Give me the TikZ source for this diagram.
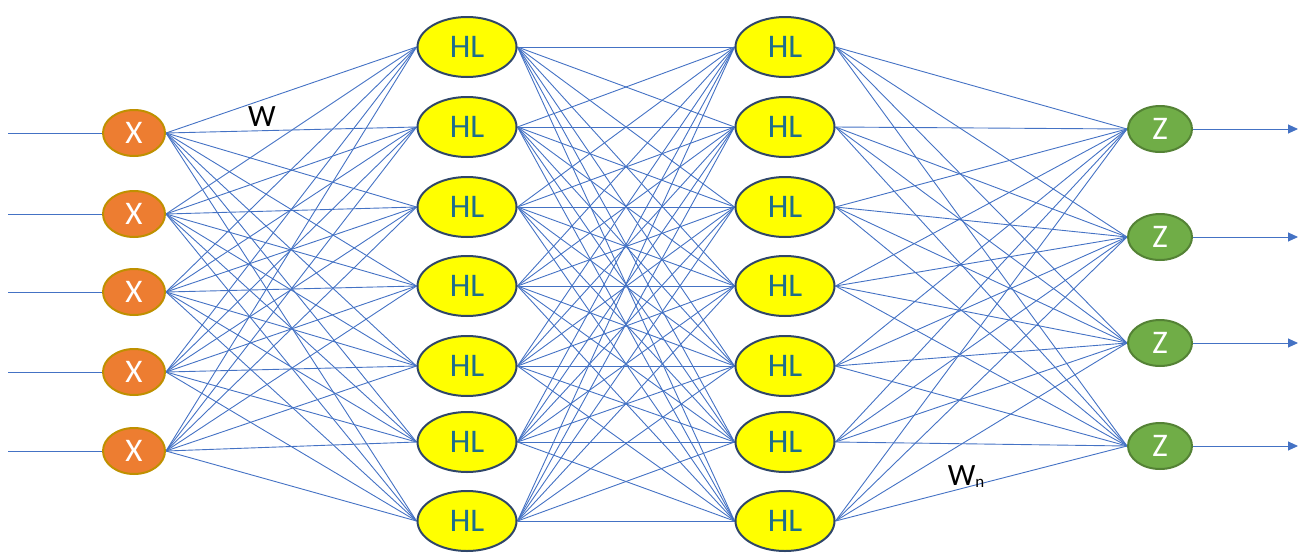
\documentclass[tikz,border=0pt]{standalone}
\usepackage{fontspec}
\setmainfont{Carlito}
\usetikzlibrary{shapes.geometric,arrows.meta,backgrounds}
\definecolor{lineblue}{RGB}{68,114,196}
\definecolor{xfill}{RGB}{237,125,49}
\definecolor{xborder}{RGB}{191,144,0}
\definecolor{zfill}{RGB}{112,173,71}
\definecolor{zborder}{RGB}{84,130,53}
\definecolor{hlfill}{RGB}{255,255,0}
\definecolor{hlborder}{RGB}{47,70,105}
\definecolor{hltext}{RGB}{30,110,140}
\tikzset{
  conn/.style={draw=lineblue, line width=0.9pt},
  xnode/.style={ellipse, draw=xborder, fill=xfill, line width=2pt, minimum width=62pt, minimum height=46pt, inner sep=0pt, text=white, font=\fontsize{33}{35}\selectfont},
  znode/.style={ellipse, draw=zborder, fill=zfill, line width=2pt, minimum width=64pt, minimum height=46pt, inner sep=0pt, text=white, font=\fontsize{33}{35}\selectfont},
  hlnode/.style={ellipse, draw=hlborder, fill=hlfill, line width=2pt, minimum width=99pt, minimum height=60pt, inner sep=0pt, text=hltext, font=\fontsize{33}{35}\selectfont},
  wlabel/.style={font=\fontsize{31}{33}\selectfont, text=black, inner sep=0pt}
}
\begin{document}
\begin{tikzpicture}[x=1pt,y=-1pt]
\useasboundingbox (0,0) rectangle (1303,557);
% input nodes
\foreach \i/\y in {1/133,2/214,3/292,4/372,5/451} {
  \node[xnode] (x\i) at (134,\y) {X};
  \coordinate (in\i) at (8,\y);
}
% hidden layers
\foreach \i/\y in {1/47,2/127,3/207,4/286,5/366,6/442,7/521} {
  \node[hlnode] (a\i) at (467,\y) {HL};
  \node[hlnode] (b\i) at (785,\y) {HL};
}
% outputs
\foreach \i/\y in {1/129,2/237,3/343,4/446} {
  \node[znode] (z\i) at (1160,\y) {Z};
  \coordinate (out\i) at (1298,\y);
}
\node[wlabel] (w) at (262,117) {W};
\node[wlabel] (wn) at (966,477) {W\raisebox{-2pt}{\fontsize{17}{19}\selectfont n}};
\begin{pgfonlayer}{background}
\foreach \i in {1,...,5} {
  \draw[conn] (in\i) -- (x\i.west);
  \foreach \j in {1,...,7} { \draw[conn] (x\i.east) -- (a\j.west); }
}
\foreach \i in {1,...,7} {
  \foreach \j in {1,...,7} { \draw[conn] (a\i.east) -- (b\j.west); }
  \foreach \j in {1,...,4} { \draw[conn] (b\i.east) -- (z\j.west); }
}
\foreach \j in {1,...,4} {
  \draw[conn, -{Triangle[length=10pt,width=9pt]}] (z\j.east) -- (out\j);
}
\end{pgfonlayer}
\end{tikzpicture}
\end{document}
